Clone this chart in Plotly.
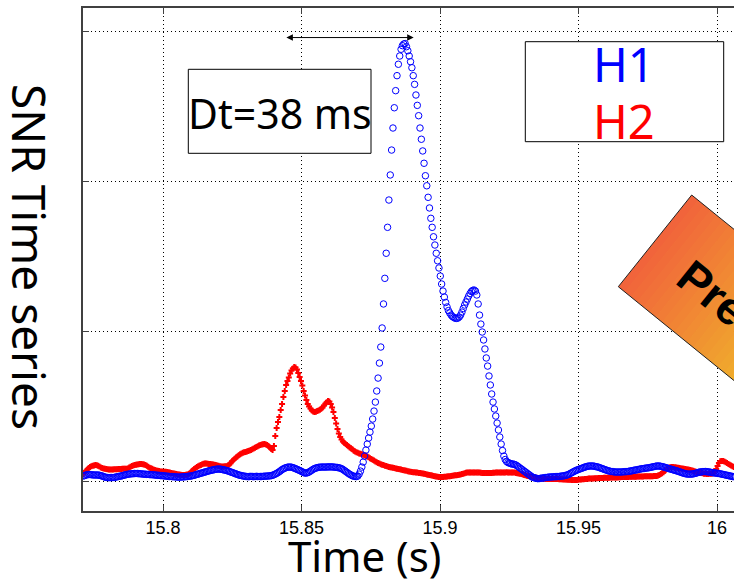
import numpy as np
import plotly.graph_objects as go

# ---------------- data ----------------
FS = 2048.0          # samples per second
T0 = 15.7712         # time of first sample (s)
X_TICKS = [15.8, 15.85, 15.9, 15.95, 16.0]
X_TICK_LABELS = ["15.8", "15.85", "15.9", "15.95", "16"]
Y_TICKS = [0, 10, 20, 30]

H1 = [
    0.38, 0.41, 0.45, 0.47, 0.48, 0.48, 0.47, 0.46, 0.45, 0.45,
    0.45, 0.45, 0.43, 0.41, 0.38, 0.35, 0.31, 0.29, 0.28, 0.27,
    0.28, 0.28, 0.28, 0.29, 0.31, 0.33, 0.35, 0.37, 0.38, 0.41,
    0.43, 0.46, 0.48, 0.50, 0.51, 0.53, 0.53, 0.54, 0.55, 0.55,
    0.55, 0.54, 0.53, 0.53, 0.51, 0.51, 0.50, 0.49, 0.49, 0.48,
    0.47, 0.47, 0.46, 0.45, 0.44, 0.43, 0.43, 0.41, 0.41, 0.40,
    0.39, 0.38, 0.37, 0.36, 0.35, 0.35, 0.34, 0.33, 0.33, 0.32,
    0.31, 0.31, 0.31, 0.32, 0.33, 0.33, 0.34, 0.35, 0.37, 0.37,
    0.39, 0.41, 0.43, 0.46, 0.49, 0.51, 0.54, 0.57, 0.59, 0.62,
    0.65, 0.67, 0.70, 0.73, 0.75, 0.77, 0.79, 0.81, 0.83, 0.84,
    0.85, 0.84, 0.83, 0.81, 0.79, 0.77, 0.75, 0.72, 0.69, 0.65,
    0.62, 0.59, 0.55, 0.52, 0.49, 0.45, 0.43, 0.41, 0.39, 0.37,
    0.36, 0.35, 0.34, 0.35, 0.36, 0.35, 0.34, 0.35, 0.36, 0.35,
    0.35, 0.35, 0.35, 0.36, 0.37, 0.37, 0.38, 0.39, 0.39, 0.41,
    0.43, 0.47, 0.51, 0.56, 0.61, 0.67, 0.74, 0.81, 0.86, 0.91,
    0.94, 0.97, 0.98, 0.98, 0.97, 0.94, 0.91, 0.87, 0.83, 0.79,
    0.75, 0.71, 0.66, 0.61, 0.58, 0.58, 0.61, 0.65, 0.71, 0.77,
    0.83, 0.88, 0.91, 0.94, 0.96, 0.97, 0.98, 0.98, 0.98, 0.98,
    0.98, 0.99, 0.99, 0.99, 0.99, 0.98, 0.97, 0.96, 0.95, 0.93,
    0.91, 0.87, 0.82, 0.76, 0.69, 0.63, 0.56, 0.50, 0.45, 0.40,
    0.37, 0.35, 0.35, 0.38, 0.51, 0.71, 0.98, 1.31, 1.71, 2.11,
    2.51, 2.91, 3.31, 3.71, 4.18, 4.71, 5.31, 6.05, 6.91, 7.91,
    8.98, 10.25, 11.85, 13.56, 15.23, 16.96, 18.78, 20.45, 22.11, 23.58,
    24.93, 26.07, 27.07, 27.83, 28.38, 28.83, 29.07, 29.18, 29.21, 29.00,
    28.73, 28.38, 28.00, 27.60, 27.07, 26.49, 25.78, 25.09, 24.40, 23.58,
    22.83, 22.05, 21.23, 20.40, 19.73, 18.96, 18.25, 17.56, 16.96, 16.33,
    15.78, 15.23, 14.73, 14.25, 13.71, 13.18, 12.71, 12.31, 11.95, 11.65,
    11.41, 11.25, 11.11, 11.01, 10.95, 10.90, 10.89, 10.91, 10.98, 11.11,
    11.31, 11.55, 11.78, 11.98, 12.18, 12.38, 12.55, 12.68, 12.76, 12.78,
    12.71, 12.45, 11.85, 11.11, 10.51, 9.98, 9.45, 8.85, 8.25, 7.71,
    7.05, 6.45, 5.85, 5.31, 4.85, 4.38, 3.91, 3.45, 2.98, 2.51,
    2.08, 1.71, 1.48, 1.35, 1.28, 1.25, 1.21, 1.18, 1.18, 1.15,
    1.11, 1.05, 0.98, 0.91, 0.85, 0.78, 0.71, 0.65, 0.58, 0.51,
    0.45, 0.38, 0.31, 0.28, 0.25, 0.23, 0.21, 0.21, 0.23, 0.24,
    0.25, 0.27, 0.28, 0.29, 0.31, 0.31, 0.32, 0.33, 0.33, 0.34,
    0.34, 0.35, 0.35, 0.37, 0.38, 0.39, 0.41, 0.43, 0.46, 0.49,
    0.55, 0.59, 0.65, 0.69, 0.74, 0.78, 0.81, 0.85, 0.88, 0.91,
    0.95, 0.98, 1.01, 1.03, 1.05, 1.05, 1.05, 1.05, 1.03, 1.01,
    0.99, 0.97, 0.93, 0.90, 0.87, 0.83, 0.80, 0.77, 0.74, 0.71,
    0.69, 0.68, 0.67, 0.65, 0.65, 0.65, 0.65, 0.65, 0.65, 0.66,
    0.67, 0.67, 0.68, 0.69, 0.71, 0.72, 0.74, 0.76, 0.78, 0.79,
    0.81, 0.83, 0.85, 0.87, 0.88, 0.89, 0.91, 0.92, 0.93, 0.95,
    0.97, 0.99, 1.01, 1.03, 1.05, 1.05, 1.05, 1.03, 1.01, 0.99,
    0.96, 0.93, 0.91, 0.88, 0.85, 0.83, 0.80, 0.77, 0.75, 0.72,
    0.69, 0.66, 0.63, 0.59, 0.57, 0.54, 0.52, 0.51, 0.51, 0.51,
    0.51, 0.53, 0.55, 0.57, 0.60, 0.63, 0.65, 0.66, 0.67, 0.68,
    0.68, 0.67, 0.66, 0.65, 0.63, 0.61, 0.60, 0.59, 0.57, 0.56,
    0.55, 0.53, 0.51, 0.49, 0.47, 0.45, 0.43, 0.41, 0.39, 0.37,
    0.35, 0.34, 0.33,
]

H2 = [
    0.51, 0.61, 0.71, 0.81, 0.91, 0.98, 1.03, 1.07, 1.09, 1.11,
    1.10, 1.06, 1.01, 0.95, 0.91, 0.88, 0.86, 0.85, 0.83, 0.82,
    0.81, 0.81, 0.82, 0.83, 0.83, 0.84, 0.85, 0.85, 0.85, 0.86,
    0.86, 0.87, 0.87, 0.89, 0.95, 1.00, 1.05, 1.09, 1.11, 1.13,
    1.15, 1.17, 1.18, 1.18, 1.17, 1.15, 1.11, 1.06, 1.00, 0.94,
    0.90, 0.86, 0.82, 0.79, 0.75, 0.73, 0.71, 0.69, 0.68, 0.67,
    0.67, 0.66, 0.65, 0.63, 0.61, 0.59, 0.57, 0.55, 0.53, 0.51,
    0.49, 0.48, 0.47, 0.45, 0.45, 0.45, 0.46, 0.48, 0.51, 0.57,
    0.68, 0.77, 0.85, 0.91, 0.98, 1.03, 1.08, 1.12, 1.16, 1.20,
    1.21, 1.21, 1.20, 1.19, 1.18, 1.17, 1.15, 1.13, 1.11, 1.08,
    1.06, 1.04, 1.02, 1.01, 1.01, 1.03, 1.04, 1.08, 1.15, 1.24,
    1.37, 1.45, 1.53, 1.61, 1.69, 1.77, 1.83, 1.89, 1.93, 1.96,
    1.99, 2.01, 2.05, 2.08, 2.12, 2.17, 2.22, 2.27, 2.31, 2.36,
    2.41, 2.45, 2.48, 2.50, 2.51, 2.49, 2.45, 2.38, 2.29, 2.19,
    2.11, 2.38, 3.05, 3.58, 3.98, 4.31, 4.78, 5.18, 5.65, 6.05,
    6.45, 6.71, 6.95, 7.21, 7.41, 7.55, 7.65, 7.61, 7.48, 7.25,
    6.98, 6.71, 6.41, 6.05, 5.75, 5.45, 5.18, 5.01, 4.88, 4.75,
    4.68, 4.65, 4.67, 4.71, 4.75, 4.80, 4.86, 4.95, 5.08, 5.20,
    5.30, 5.38, 5.35, 5.18, 4.95, 4.65, 4.25, 3.88, 3.51, 3.21,
    2.98, 2.81, 2.69, 2.59, 2.51, 2.45, 2.37, 2.29, 2.23, 2.17,
    2.07, 2.02, 1.97, 1.93, 1.89, 1.86, 1.83, 1.80, 1.77, 1.73,
    1.68, 1.63, 1.57, 1.51, 1.46, 1.41, 1.35, 1.30, 1.25, 1.21,
    1.17, 1.14, 1.11, 1.07, 1.05, 1.02, 0.99, 0.97, 0.95, 0.93,
    0.91, 0.89, 0.87, 0.85, 0.84, 0.82, 0.79, 0.77, 0.75, 0.73,
    0.70, 0.68, 0.67, 0.65, 0.64, 0.63, 0.61, 0.61, 0.59, 0.58,
    0.57, 0.55, 0.53, 0.51, 0.49, 0.47, 0.45, 0.43, 0.41, 0.39,
    0.37, 0.35, 0.33, 0.32, 0.31, 0.31, 0.32, 0.33, 0.33, 0.35,
    0.36, 0.37, 0.39, 0.40, 0.41, 0.43, 0.44, 0.45, 0.47, 0.48,
    0.51, 0.54, 0.57, 0.60, 0.61, 0.62, 0.62, 0.61, 0.61, 0.61,
    0.61, 0.61, 0.61, 0.61, 0.60, 0.59, 0.59, 0.58, 0.58, 0.58,
    0.58, 0.59, 0.59, 0.60, 0.60, 0.61, 0.61, 0.61, 0.61, 0.61,
    0.61, 0.62, 0.62, 0.63, 0.62, 0.61, 0.61, 0.61, 0.61, 0.61,
    0.59, 0.57, 0.55, 0.53, 0.51, 0.48, 0.45, 0.43, 0.40, 0.38,
    0.37, 0.35, 0.33, 0.31, 0.29, 0.27, 0.25, 0.23, 0.22, 0.21,
    0.21, 0.20, 0.19, 0.19, 0.18, 0.18, 0.18, 0.18, 0.18, 0.18,
    0.18, 0.18, 0.17, 0.17, 0.16, 0.15, 0.15, 0.15, 0.14, 0.13,
    0.13, 0.12, 0.11, 0.11, 0.11, 0.12, 0.13, 0.15, 0.15, 0.17,
    0.17, 0.19, 0.19, 0.20, 0.21, 0.21, 0.21, 0.22, 0.23, 0.23,
    0.24, 0.25, 0.25, 0.25, 0.25, 0.26, 0.27, 0.27, 0.27, 0.27,
    0.28, 0.28, 0.29, 0.29, 0.29, 0.29, 0.30, 0.30, 0.31, 0.31,
    0.31, 0.31, 0.32, 0.32, 0.33, 0.33, 0.33, 0.33, 0.34, 0.34,
    0.35, 0.35, 0.35, 0.35, 0.35, 0.36, 0.36, 0.36, 0.37, 0.37,
    0.37, 0.37, 0.38, 0.38, 0.38, 0.41, 0.45, 0.51, 0.57, 0.63,
    0.71, 0.81, 0.89, 0.94, 0.97, 0.98, 0.98, 0.97, 0.96, 0.94,
    0.93, 0.91, 0.89, 0.88, 0.87, 0.85, 0.83, 0.82, 0.80, 0.78,
    0.75, 0.73, 0.70, 0.67, 0.65, 0.62, 0.60, 0.58, 0.56, 0.54,
    0.53, 0.51, 0.52, 0.53, 0.54, 0.55, 0.56, 0.68, 0.85, 1.05,
    1.25, 1.36, 1.39, 1.38, 1.35, 1.30, 1.25, 1.19, 1.14, 1.09,
    1.03, 0.98, 0.93,
]

# sample times
t1 = T0 + np.arange(len(H1)) / FS
t2 = T0 + np.arange(len(H2)) / FS

# ---------------- layout geometry ----------------
W, HGT = 734, 584
ML, MR, MT, MB = 83, 0, 8, 73
PW = W - ML - MR
PH = HGT - MT - MB


def px(x):
    return (x - ML) / PW


def py(y):
    return 1 - (y - MT) / PH


fig = go.Figure()
fig.add_trace(go.Scatter(
    x=t2, y=H2, mode="markers", name="H2",
    marker=dict(symbol="cross", size=5, color="#ff0000", line=dict(width=0)),
))
fig.add_trace(go.Scatter(
    x=t1, y=H1, mode="markers", name="H1",
    marker=dict(symbol="circle-open", size=6.5, color="#0000ff",
                line=dict(width=1, color="#0000ff")),
))

AX = "#404040"
fig.update_xaxes(
    range=[15.771119, 16.006137], tickvals=X_TICKS, ticktext=X_TICK_LABELS,
    ticks="inside", ticklen=6, tickcolor=AX, tickwidth=1,
    showline=True, linecolor=AX, linewidth=1.5, mirror="ticks",
    showgrid=True, gridcolor="black", gridwidth=1, griddash="1px,3px",
    zeroline=False, automargin=False,
    tickfont=dict(family="Liberation Sans, Arial", size=18, color="black"),
)
fig.update_yaxes(
    range=[-1.95, 31.58], tickvals=Y_TICKS, showticklabels=False,
    ticks="inside", ticklen=6, tickcolor=AX, tickwidth=1,
    showline=True, linecolor=AX, linewidth=1.5, mirror=False,
    showgrid=True, gridcolor="black", gridwidth=1, griddash="1px,3px",
    zeroline=False, automargin=False,
)

shapes = []
# Dt box
shapes.append(dict(type="rect", xref="paper", yref="paper",
                   x0=px(188.3), x1=px(371), y0=py(153.3), y1=py(69.3),
                   line=dict(color="black", width=1), fillcolor="white", layer="above"))
# H1/H2 box
shapes.append(dict(type="rect", xref="paper", yref="paper",
                   x0=px(525.3), x1=px(723.7), y0=py(141.7), y1=py(41.7),
                   line=dict(color="black", width=1), fillcolor="white", layer="above"))

# rotated gradient "Preliminary" stamp
Lc = np.array([618.3, 286.7])
Tc = np.array([691.7, 195.0])
u = np.array([0.7765, 0.630])
c0 = np.array([242, 98, 60])
c1 = np.array([240, 186, 42])
n, dmax = 40, 320.0


def to_path(pts):
    s = "M " + " L ".join(f"{px(p[0]):.5f},{py(p[1]):.5f}" for p in pts) + " Z"
    return s


for k in range(n):
    d0 = dmax * k / n
    d1 = dmax * (k + 1) / n + 0.8
    f = min(1.0, (d0 + d1) / 2 / 175.0)
    c = (c0 + (c1 - c0) * f).astype(int)
    pts = [Lc + d0 * u, Tc + d0 * u, Tc + d1 * u, Lc + d1 * u]
    shapes.append(dict(type="path", xref="paper", yref="paper", path=to_path(pts),
                       fillcolor=f"rgb({c[0]},{c[1]},{c[2]})", line=dict(width=0),
                       layer="above"))
shapes.append(dict(type="path", xref="paper", yref="paper",
                   path=to_path([Lc, Tc, Tc + dmax * u, Lc + dmax * u]),
                   line=dict(color="#222222", width=1), layer="above"))

TXT = "Noto Sans"
annotations = [
    dict(text="Dt=38 ms", x=px(280), y=py(113.3), xref="paper", yref="paper",
         showarrow=False, xanchor="center", yanchor="middle",
         font=dict(family=TXT, size=41, color="black")),
    dict(text="H1", x=px(624), y=py(64), xref="paper", yref="paper",
         showarrow=False, xanchor="center", yanchor="middle",
         font=dict(family=TXT, size=47, color="#0000ff")),
    dict(text="H2", x=px(624), y=py(121), xref="paper", yref="paper",
         showarrow=False, xanchor="center", yanchor="middle",
         font=dict(family=TXT, size=47, color="#ff0000")),
    dict(text="SNR Time series", x=px(30), y=py(257), xref="paper", yref="paper",
         showarrow=False, xanchor="center", yanchor="middle", textangle=90,
         font=dict(family=TXT, size=46, color="black")),
    dict(text="Time (s)", x=px(364), y=py(555.5), xref="paper", yref="paper",
         showarrow=False, xanchor="center", yanchor="middle",
         font=dict(family=TXT, size=42, color="black")),
    dict(text="", x=15.8905, y=29.61, ax=15.8440, ay=29.61,
         xref="x", yref="y", axref="x", ayref="y",
         showarrow=True, arrowhead=2, startarrowhead=2, arrowside="end+start",
         arrowsize=1.3, startarrowsize=1.3, arrowwidth=1, arrowcolor="black",
         standoff=0, startstandoff=0),
    dict(text="<b>Preliminary</b>", x=px(781.4), y=py(348.9), xref="paper", yref="paper",
         showarrow=False, xanchor="center", yanchor="middle", textangle=39,
         font=dict(family="Liberation Sans, Arial", size=46, color="black")),
]

fig.update_layout(
    width=W, height=HGT,
    margin=dict(l=ML, r=MR, t=MT, b=MB, pad=0),
    paper_bgcolor="white", plot_bgcolor="white",
    showlegend=False,
    shapes=shapes, annotations=annotations,
)

fig.write_html(
    "out.html",
    config={"displayModeBar": False},
    post_script="document.body.style.margin='0';document.body.style.overflow='hidden';",
)
